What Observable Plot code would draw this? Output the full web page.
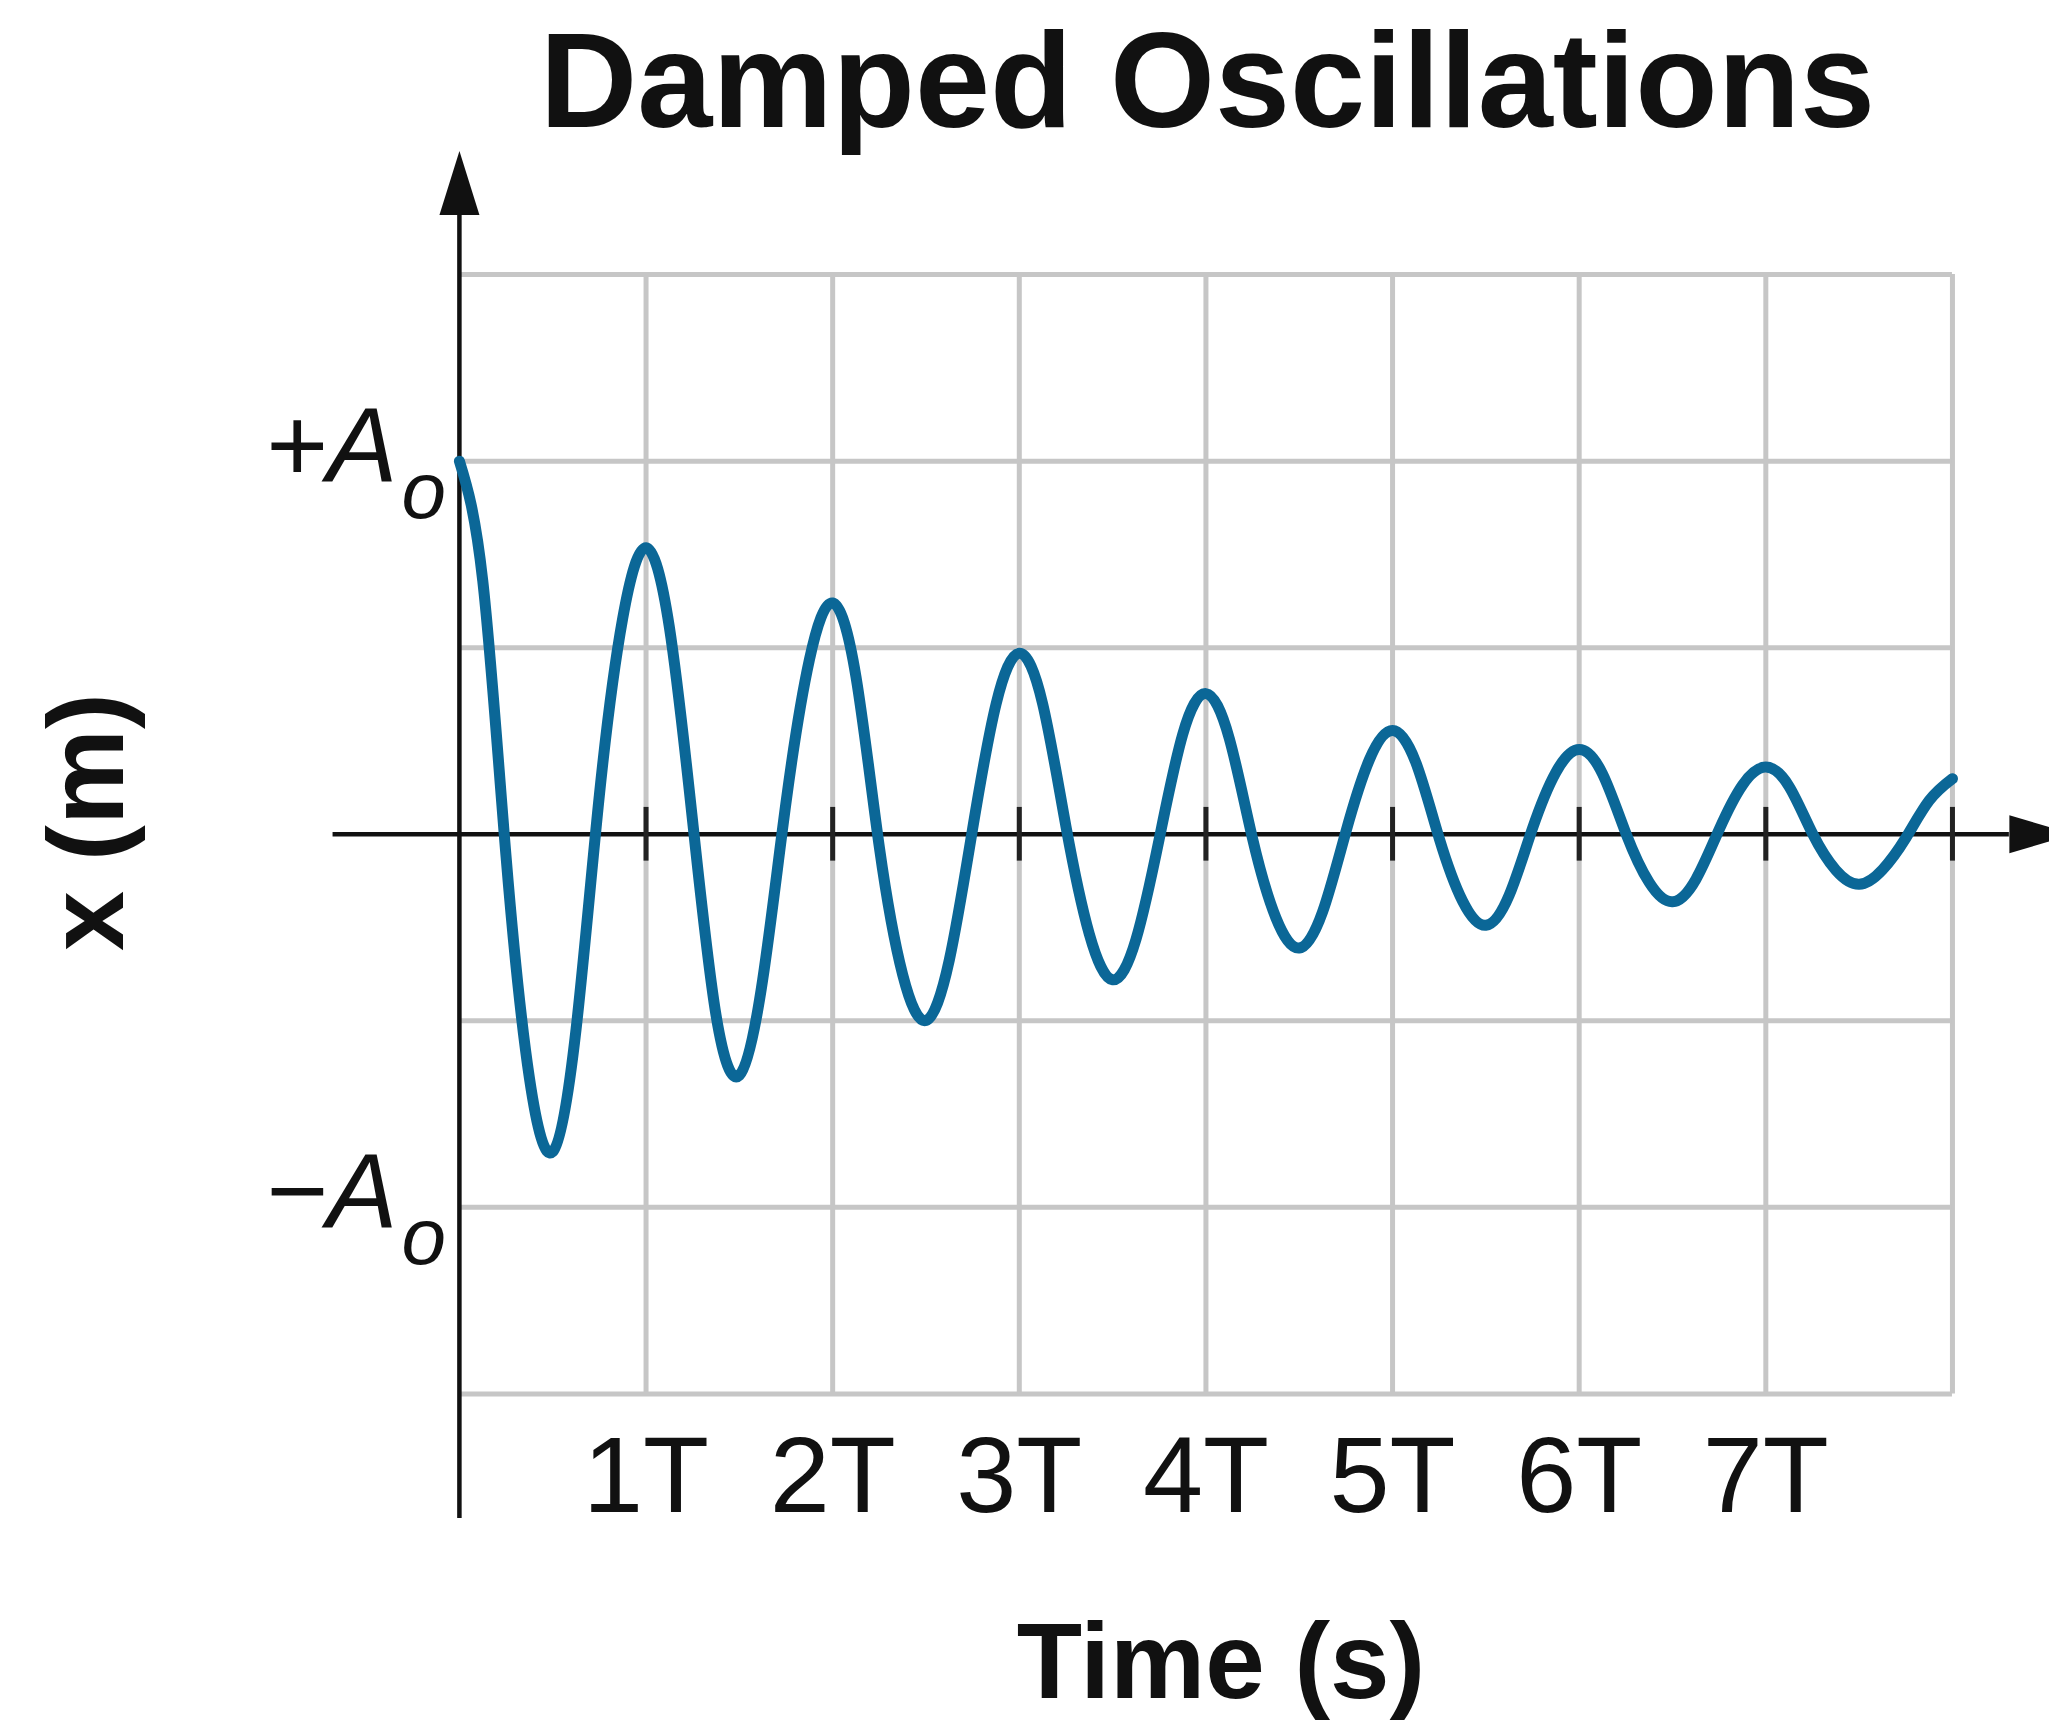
<!DOCTYPE html>
<html>
<head>
<meta charset="utf-8">
<script src="https://cdn.jsdelivr.net/npm/d3@7"></script>
<script src="https://cdn.jsdelivr.net/npm/@observablehq/plot@0.6"></script>
<style>
html, body { margin: 0; padding: 0; background: #fff; }
#wrap { width: 2049px; height: 1727px; overflow: hidden; background: #fff; }
#title { position: relative; height: 140px; width: 2049px; }
#title span { position: absolute; left: 0; top: 12.7px; width: 2049px; text-align: center;
  font: bold 135px/135px "Liberation Sans", Arial, sans-serif; color: #111;
  transform: translateX(183px); white-space: nowrap; }
svg { display: block; }
</style>
</head>
<body>
<div id="wrap">
  <div id="title"><span id="titleText"></span></div>
  <div id="chart"></div>
</div>
<script>
// ---- chart text ----
const titleText = "Damped Oscillations";
const xAxisLabel = "Time (s)";
const yAxisLabel = "x (m)";

// ---- curve: time (in periods T) and displacement (in units of A0) ----
const periods = [0, 0.125, 0.25, 0.375, 0.5, 0.625, 0.75, 0.875,
  1, 1.125, 1.25, 1.375, 1.5, 1.625, 1.75, 1.875,
  2, 2.125, 2.25, 2.375, 2.5, 2.625, 2.75, 2.875,
  3, 3.125, 3.25, 3.375, 3.5, 3.625, 3.75, 3.875,
  4, 4.125, 4.25, 4.375, 4.5, 4.625, 4.75, 4.875,
  5, 5.125, 5.25, 5.375, 5.5, 5.625, 5.75, 5.875,
  6, 6.125, 6.25, 6.375, 6.5, 6.625, 6.75, 6.875,
  7, 7.125, 7.25, 7.375, 7.5, 7.625, 7.75, 7.875, 8];
const displacement = [1.0, 0.68, -0.06, -0.653, -0.851, -0.523, 0.105, 0.579,
  0.768, 0.555, 0.033, -0.485, -0.646, -0.39, 0.085, 0.467,
  0.62, 0.422, -0.034, -0.376, -0.499, -0.337, 0.015, 0.348,
  0.485, 0.35, 0.021, -0.267, -0.39, -0.282, -0.012, 0.267,
  0.377, 0.257, -0.012, -0.224, -0.305, -0.208, 0.007, 0.199,
  0.278, 0.192, -0.011, -0.179, -0.244, -0.163, 0.016, 0.166,
  0.227, 0.162, 0.003, -0.129, -0.181, -0.121, 0.013, 0.132,
  0.18, 0.128, 0.002, -0.096, -0.134, -0.095, -0.01, 0.09, 0.149];

// ---- ticks and grid ----
const xTickValues = [1, 2, 3, 4, 5, 6, 7];
const xTickLabels = ["1T", "2T", "3T", "4T", "5T", "6T", "7T"];
const xTickMarks = [1, 2, 3, 4, 5, 6, 7, 8];
const gridX = [1, 2, 3, 4, 5, 6, 7, 8];
const gridY = [-1.5, -1, -0.5, 0.5, 1, 1.5];
const yLabelValues = [1, -1];
const yLabelTexts = ["+A", "\u2212A"];
const yLabelSubscripts = ["o", "o"];
const axisXExtent = [-0.677, 8.305];
const axisYExtent = [-1.834, 1.66];

document.getElementById("titleText").textContent = titleText;

const data = periods.map((t, i) => ({t, x: displacement[i]}));
const yLabels = yLabelValues.map((v, i) => ({v, text: yLabelTexts[i], sub: yLabelSubscripts[i]}));

const arrowUp = {draw(ctx) { ctx.moveTo(0, -64); ctx.lineTo(20, 0); ctx.lineTo(-20, 0); ctx.closePath(); }};
const arrowRight = {draw(ctx) { ctx.moveTo(64, 0); ctx.lineTo(0, -19); ctx.lineTo(0, 19); ctx.closePath(); }};

const font = '"Liberation Sans", Arial, sans-serif';
const gridColor = "#c6c6c6";
const ink = "#111";

const chart = Plot.plot({
  width: 2049,
  height: 1587,
  marginLeft: 332,
  marginRight: 0,
  marginTop: 11,
  marginBottom: 203,
  x: {domain: [-0.68, 8.52], axis: null},
  y: {domain: [-1.85, 1.83], axis: null},
  style: {fontFamily: font, background: "#fff", color: ink, overflow: "hidden"},
  marks: [
    Plot.ruleX(gridX, {x: d => d, y1: d3.min(gridY), y2: d3.max(gridY), stroke: gridColor, strokeWidth: 5}),
    Plot.ruleY(gridY, {y: d => d, x1: 0, x2: d3.max(gridX), stroke: gridColor, strokeWidth: 5}),
    Plot.ruleY([0], {x1: axisXExtent[0], x2: axisXExtent[1], stroke: ink, strokeWidth: 4.5}),
    Plot.ruleX([0], {y1: axisYExtent[0], y2: axisYExtent[1], stroke: ink, strokeWidth: 4.5}),
    Plot.ruleX(xTickMarks, {x: d => d, y1: -0.072, y2: 0.072, stroke: "#222", strokeWidth: 5}),
    Plot.dot([0], {x: d => d, y: axisYExtent[1], symbol: arrowUp, fill: ink, stroke: "none"}),
    Plot.dot([0], {x: axisXExtent[1], y: d => d, symbol: arrowRight, fill: ink, stroke: "none"}),
    Plot.line(data, {x: "t", y: "x", curve: "natural", stroke: "#0b6797", strokeWidth: 11, strokeLinecap: "round", strokeLinejoin: "round"}),
    Plot.axisX({ticks: xTickValues, tickFormat: d => xTickLabels[xTickValues.indexOf(d)], tickSize: 0, tickPadding: -89, fontSize: 108, label: null, fill: ink}),
    Plot.text(yLabels, {x: 0, y: "v", text: "text", textAnchor: "end", lineAnchor: "bottom", dx: -62, dy: 20, fontSize: 106, fontStyle: "italic", fill: ink}),
    Plot.text(yLabels, {x: 0, y: "v", text: "sub", textAnchor: "start", lineAnchor: "bottom", dx: -58, dy: 57, fontSize: 80, fontStyle: "italic", fill: ink}),
    Plot.text([xAxisLabel], {text: d => d, frameAnchor: "bottom", textAnchor: "middle", lineAnchor: "bottom", dx: 30, dy: 173, fontSize: 107, fontWeight: "bold", fill: ink}),
    Plot.text([yAxisLabel], {text: d => d, frameAnchor: "left", textAnchor: "middle", lineAnchor: "bottom", rotate: -90, dx: -210, dy: -16, fontSize: 108, fontWeight: "bold", fill: ink})
  ]
});
document.getElementById("chart").appendChild(chart);
</script>
</body>
</html>
